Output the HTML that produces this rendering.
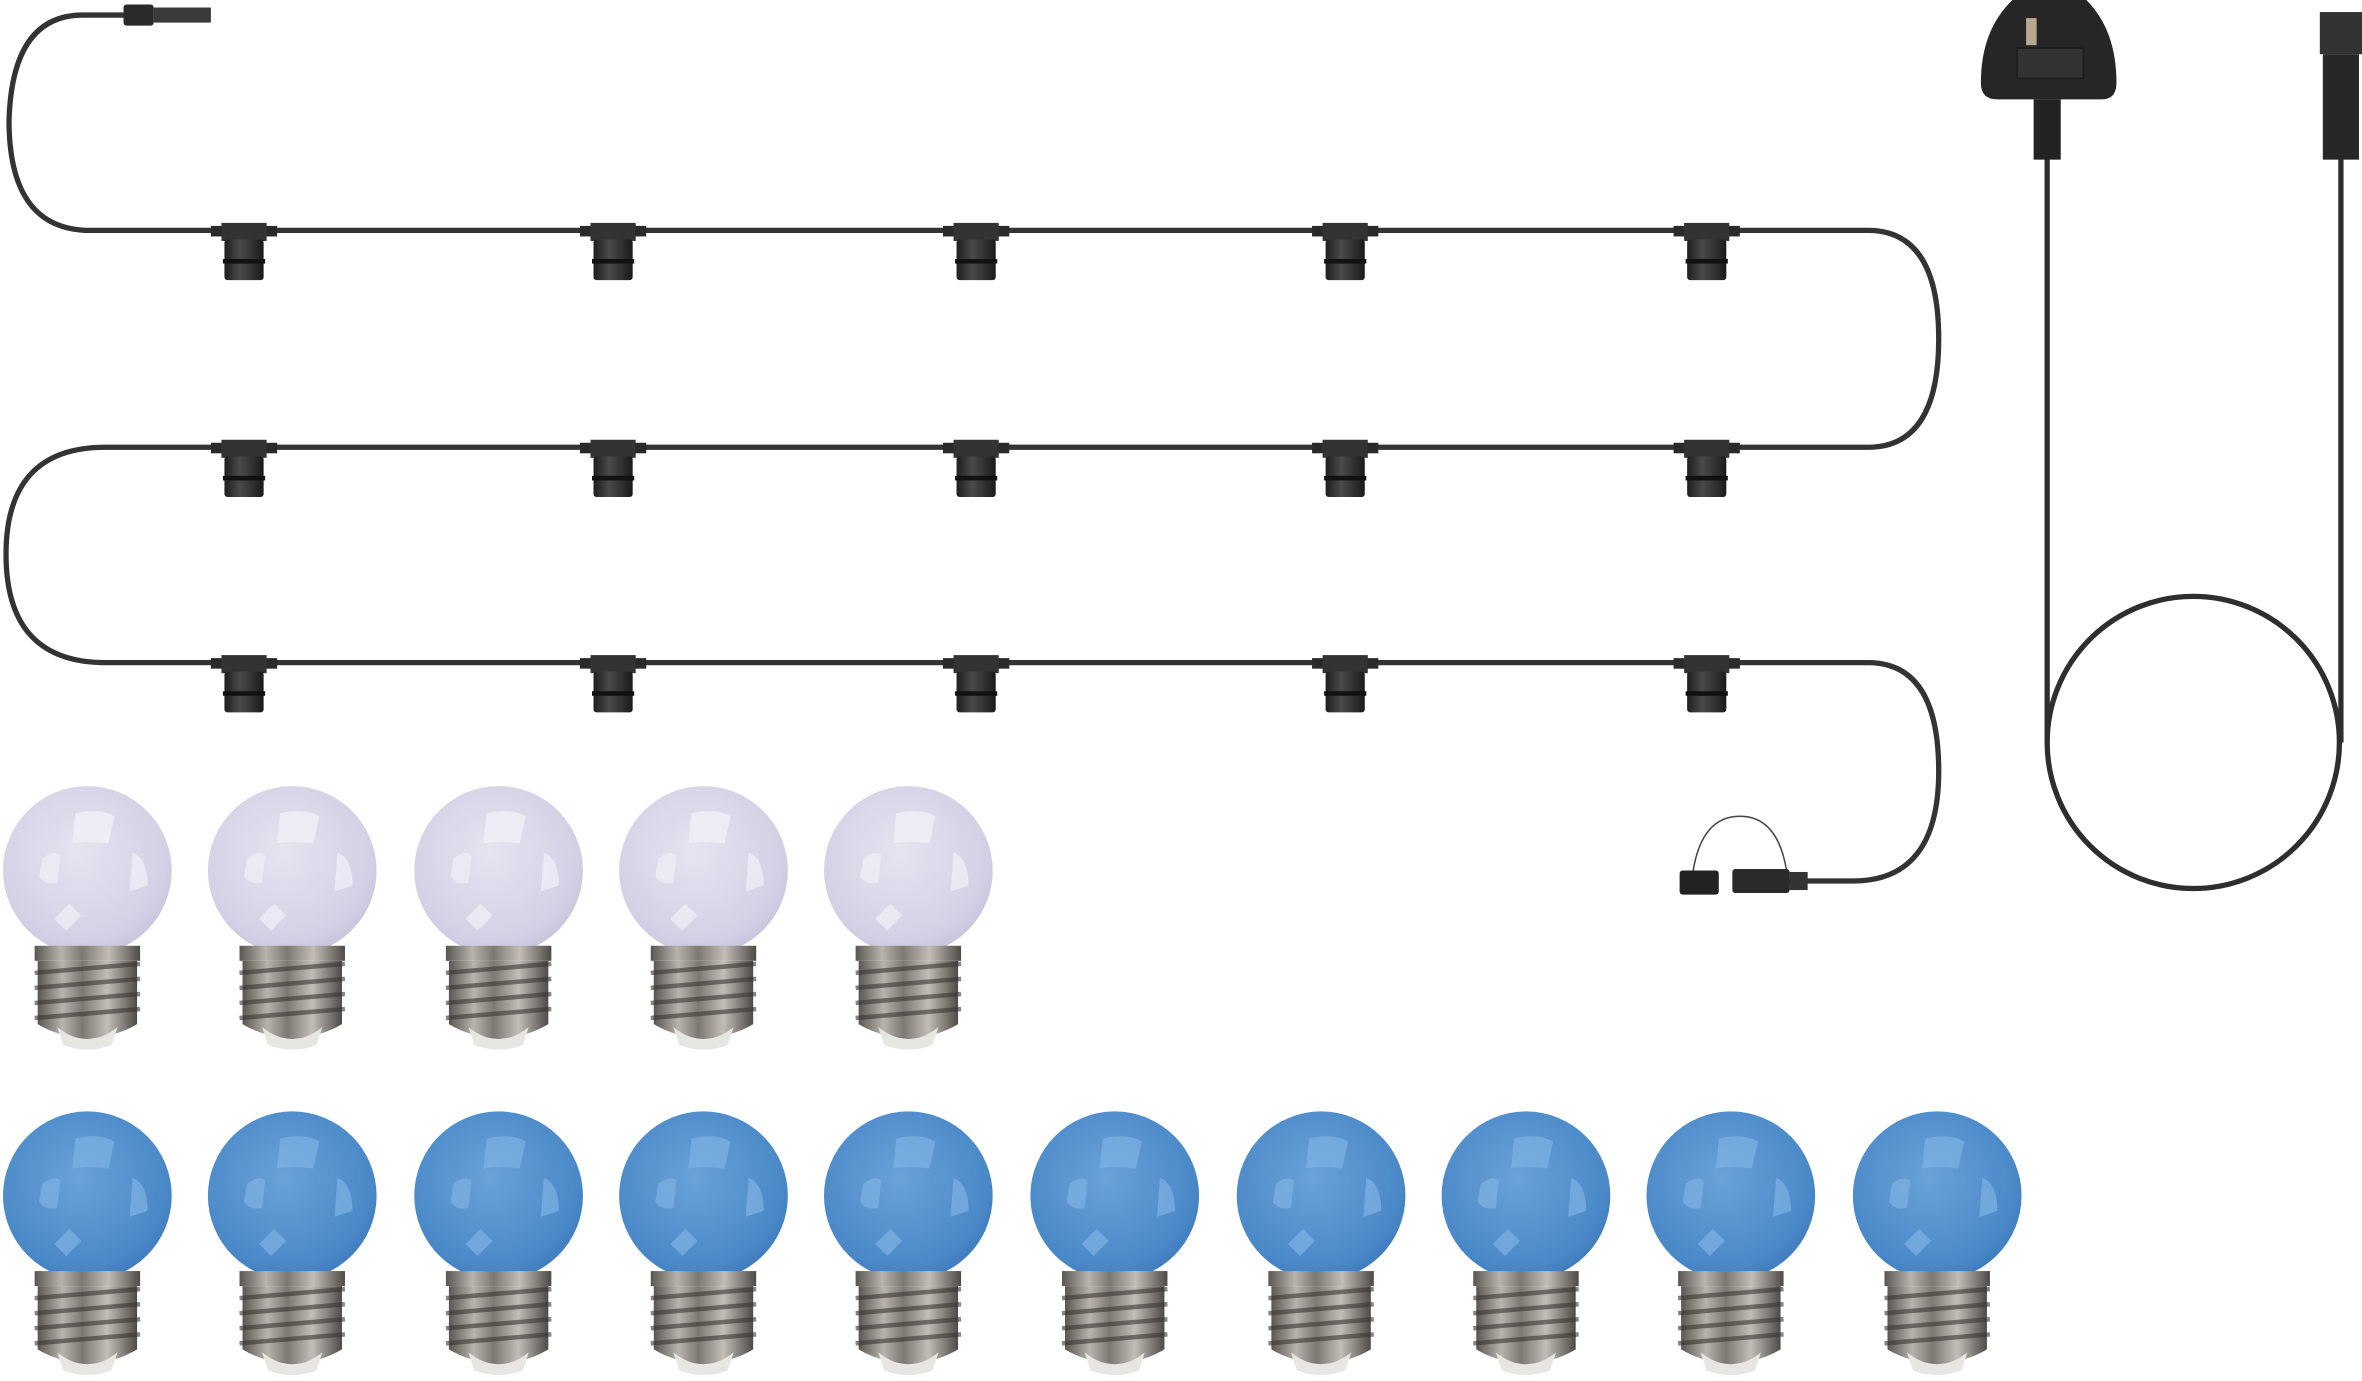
<!DOCTYPE html>
<html><head><meta charset="utf-8"><style>
html,body{margin:0;padding:0;background:#fff;}
svg{display:block;}
</style></head><body>
<svg width="2362" height="1381" viewBox="0 0 1568 917" preserveAspectRatio="none" xmlns="http://www.w3.org/2000/svg">
<defs>
<radialGradient id="gw" cx="0.45" cy="0.4" r="0.65">
<stop offset="0" stop-color="#e6e4f0"/><stop offset="0.8" stop-color="#d2d0e4"/><stop offset="1" stop-color="#c4c2da"/>
</radialGradient>
<radialGradient id="gb" cx="0.45" cy="0.4" r="0.65">
<stop offset="0" stop-color="#6aa2d8"/><stop offset="0.8" stop-color="#4a88c8"/><stop offset="1" stop-color="#3c78ba"/>
</radialGradient>
<linearGradient id="gm" x1="0" x2="1">
<stop offset="0" stop-color="#5a5652"/><stop offset="0.25" stop-color="#b8b4ac"/><stop offset="0.45" stop-color="#7c7872"/><stop offset="0.7" stop-color="#c2beb6"/><stop offset="1" stop-color="#4e4a46"/>
</linearGradient>
<linearGradient id="gs" x1="0" x2="1">
<stop offset="0" stop-color="#1e1e1e"/><stop offset="0.4" stop-color="#4a4a4a"/><stop offset="1" stop-color="#1a1a1a"/>
</linearGradient>
<g id="base">
<rect x="-35" y="50" width="70" height="10" fill="url(#gm)"/>
<path d="M-33 60 H33 V102 Q20 110 0 112 Q-20 110 -33 102 Z" fill="url(#gm)"/>
<path d="M-35 68 L35 62 M-35 78 L35 72 M-35 88 L35 82 M-35 98 L35 92" stroke="#3a3632" stroke-width="3" opacity="0.6"/>
<path d="M-20 104 Q0 120 20 104 L16 116 Q0 122 -16 116 Z" fill="#e8e6e2"/>
</g>
<g id="bw"><circle cx="0" cy="0" r="56" fill="url(#gw)"/>
<path d="M-8 -38 Q8 -42 18 -36 L14 -18 Q0 -20 -10 -18 Z" fill="#f1f0f8" opacity="0.8"/>
<path d="M-30 -8 Q-22 -14 -18 -10 L-20 8 Q-28 10 -32 4 Z" fill="#eeedf6" opacity="0.8"/>
<path d="M30 -12 Q40 -8 40 10 L28 14 Z" fill="#eeedf6" opacity="0.8"/>
<path d="M-12 22 L-4 30 L-14 40 L-22 32 Z" fill="#eeedf6" opacity="0.8"/>
<use href="#base"/></g>
<g id="bb"><circle cx="0" cy="0" r="56" fill="url(#gb)"/>
<path d="M-8 -38 Q8 -42 18 -36 L14 -18 Q0 -20 -10 -18 Z" fill="#7fb2e2" opacity="0.7"/>
<path d="M-30 -8 Q-22 -14 -18 -10 L-20 8 Q-28 10 -32 4 Z" fill="#7fb2e2" opacity="0.7"/>
<path d="M30 -12 Q40 -8 40 10 L28 14 Z" fill="#7fb2e2" opacity="0.7"/>
<path d="M-12 22 L-4 30 L-14 40 L-22 32 Z" fill="#7fb2e2" opacity="0.7"/>
<use href="#base"/></g>
<g id="sock">
<rect x="-22" y="-3" width="44" height="7" fill="#2a2a2a"/>
<rect x="-15" y="-5" width="30" height="12" fill="#333"/>
<rect x="-13" y="6" width="26" height="27" rx="2" fill="url(#gs)"/>
<rect x="-14" y="19" width="28" height="3" fill="#111"/>
</g>
</defs>
<path d="M85 10 H55 Q8 10 6 80 Q6 153 60 153 H1240 Q1287 153 1287 225 Q1287 297 1240 297 H70 Q4 297 4 368 Q4 440 70 440 H1240 Q1287 440 1287 512 Q1287 585 1230 585 H1170" fill="none" stroke="#333" stroke-width="3.5"/>
<rect x="82" y="3" width="20" height="14" rx="2" fill="#2a2a2a"/><rect x="102" y="5" width="38" height="10" fill="#3a3a3a"/>
<g>
<use href="#sock" x="162" y="153"/><use href="#sock" x="407" y="153"/><use href="#sock" x="648" y="153"/><use href="#sock" x="893" y="153"/><use href="#sock" x="1133" y="153"/>
<use href="#sock" x="162" y="297"/><use href="#sock" x="407" y="297"/><use href="#sock" x="648" y="297"/><use href="#sock" x="893" y="297"/><use href="#sock" x="1133" y="297"/>
<use href="#sock" x="162" y="440"/><use href="#sock" x="407" y="440"/><use href="#sock" x="648" y="440"/><use href="#sock" x="893" y="440"/><use href="#sock" x="1133" y="440"/>
</g>
<path d="M1124 578 Q1130 542 1155 542 Q1180 542 1186 578" fill="none" stroke="#444" stroke-width="1"/>
<rect x="1115" y="578" width="26" height="16" rx="2" fill="#222"/>
<rect x="1150" y="577" width="38" height="16" rx="2" fill="#2a2a2a"/>
<rect x="1188" y="579" width="12" height="12" fill="#333"/>
<path d="M1359 100 V493" fill="none" stroke="#2e2e2e" stroke-width="3.5"/>
<path d="M1554 85 V493" fill="none" stroke="#2e2e2e" stroke-width="3.5"/>
<circle cx="1456" cy="493" r="97" fill="none" stroke="#2e2e2e" stroke-width="3.5"/>
<path d="M1336 0 H1385 Q1405 20 1405 55 Q1405 66 1395 66 H1326 Q1315 66 1315 55 Q1315 20 1336 0 Z" fill="#262626"/>
<rect x="1345" y="12" width="7" height="18" fill="#b8a890"/>
<rect x="1339" y="32" width="44" height="20" fill="#333" stroke="#1c1c1c"/>
<rect x="1350" y="66" width="18" height="40" fill="#222"/>
<rect x="1540" y="8" width="28" height="28" fill="#333"/>
<rect x="1542" y="36" width="24" height="70" fill="#262626"/>
<use href="#bw" x="58" y="578"/><use href="#bw" x="194" y="578"/><use href="#bw" x="331" y="578"/><use href="#bw" x="467" y="578"/><use href="#bw" x="603" y="578"/>
<use href="#bb" x="58" y="794"/><use href="#bb" x="194" y="794"/><use href="#bb" x="331" y="794"/><use href="#bb" x="467" y="794"/><use href="#bb" x="603" y="794"/>
<use href="#bb" x="740" y="794"/><use href="#bb" x="877" y="794"/><use href="#bb" x="1013" y="794"/><use href="#bb" x="1149" y="794"/><use href="#bb" x="1286" y="794"/>
</svg>
</body></html>
